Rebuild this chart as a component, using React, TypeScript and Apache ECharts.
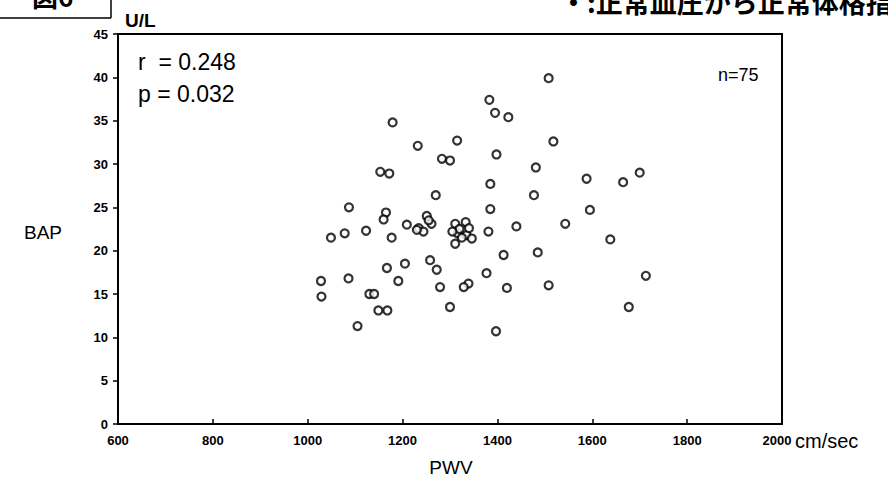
import React, { useEffect, useRef } from "react";
import * as echarts from "echarts";

const pwv: number[] = [
  1508, 1383, 1395, 1423, 1179, 1315, 1518, 1232, 1398, 1283,
  1300, 1481, 1153, 1172, 1700, 1588, 1665, 1385, 1270, 1477,
  1087, 1385, 1595, 1165, 1251, 1160, 1261, 1311, 1333, 1543,
  1209, 1440, 1234, 1244, 1123, 1381, 1078, 1316, 1335, 1049,
  1177, 1346, 1638, 1311, 1485, 1413, 1258, 1205, 1167, 1272,
  1377, 1713, 1086, 1028, 1191, 1339, 1508, 1279, 1329, 1420,
  1029, 1130, 1140, 1300, 1677, 1149, 1168, 1105, 1397, 1320,
  1325, 1305, 1340, 1230, 1255,
];
const bap: number[] = [
  39.9, 37.4, 35.9, 35.4, 34.8, 32.7, 32.6, 32.1, 31.1, 30.6,
  30.4, 29.6, 29.1, 28.9, 29.0, 28.3, 27.9, 27.7, 26.4, 26.4,
  25.0, 24.8, 24.7, 24.4, 24.0, 23.6, 23.1, 23.1, 23.3, 23.1,
  23.0, 22.8, 22.6, 22.2, 22.3, 22.2, 22.0, 22.0, 21.8, 21.5,
  21.5, 21.4, 21.3, 20.8, 19.8, 19.5, 18.9, 18.5, 18.0, 17.8,
  17.4, 17.1, 16.8, 16.5, 16.5, 16.2, 16.0, 15.8, 15.8, 15.7,
  14.7, 15.0, 15.0, 13.5, 13.5, 13.1, 13.1, 11.3, 10.7, 22.5,
  21.5, 22.2, 22.6, 22.4, 23.5,
];
const xTicks = { min: 600, max: 2000, interval: 200 };
const yTicks = { min: 0, max: 45, interval: 5 };

export default function App() {
  const ref = useRef<HTMLDivElement>(null);
  useEffect(() => {
    document.body.style.margin = "0";
    const chart = echarts.init(ref.current!, null, { renderer: "svg" });
    const data = pwv.map((x, i) => [x, bap[i]]);
    const font = "'Liberation Sans', Arial, sans-serif";
    chart.setOption({
      animation: false,
      backgroundColor: "#ffffff",
      grid: {
        left: 118,
        right: 106,
        top: 34,
        bottom: 63,
        show: true,
        borderColor: "#000",
        borderWidth: 2,
      },
      xAxis: {
        type: "value",
        min: xTicks.min,
        max: xTicks.max,
        interval: xTicks.interval,
        splitLine: { show: false },
        axisLine: { show: true, lineStyle: { color: "#000", width: 2 } },
        axisTick: { show: true, inside: true, length: 5, lineStyle: { color: "#000", width: 1.5 } },
        axisLabel: {
          color: "#000",
          fontSize: 13,
          fontWeight: "bold",
          fontFamily: font,
          margin: 10,
          formatter: (v: number) => (v === xTicks.max ? `{last|${v}}` : String(v)),
          rich: {
            last: { fontSize: 13, fontWeight: "bold", fontFamily: font, color: "#000", padding: [0, 10, 0, 0] },
          },
        },
      },
      yAxis: {
        type: "value",
        min: yTicks.min,
        max: yTicks.max,
        interval: yTicks.interval,
        splitLine: { show: false },
        axisLine: { show: true, lineStyle: { color: "#000", width: 2 } },
        axisTick: { show: true, inside: false, length: 5, lineStyle: { color: "#000", width: 1.5 } },
        axisLabel: { color: "#000", fontSize: 13, fontWeight: "bold", fontFamily: font, margin: 10 },
      },
      series: [
        {
          type: "scatter",
          data,
          symbol: "circle",
          symbolSize: 8,
          itemStyle: { color: "#fff", borderColor: "#000", borderWidth: 2.2 },
        },
      ],
      graphic: [
        {
          type: "text",
          x: 560,
          y: 1,
          style: {
            text: "・:正常血圧から正常体格指",
            font: "bold 27px 'Noto Sans CJK JP'",
            fill: "#000",
            textVerticalAlign: "middle",
          },
        },
        {
          type: "text",
          x: 32,
          y: -5,
          style: {
            text: "図6",
            font: "bold 26px 'Noto Sans CJK JP'",
            fill: "#000",
            textVerticalAlign: "middle",
          },
        },
        { type: "line", shape: { x1: 0, y1: 18, x2: 111, y2: 18 }, style: { stroke: "#000", lineWidth: 1.5 } },
        { type: "line", shape: { x1: 111, y1: 0, x2: 111, y2: 18 }, style: { stroke: "#000", lineWidth: 1.5 } },
        {
          type: "text",
          x: 125,
          y: 20,
          style: { text: "U/L", font: `bold 19px ${font}`, fill: "#000", textVerticalAlign: "middle" },
        },
        {
          type: "text",
          x: 138,
          y: 62,
          style: { text: "r  = 0.248", font: `23px ${font}`, fill: "#000", textVerticalAlign: "middle" },
        },
        {
          type: "text",
          x: 138,
          y: 94,
          style: { text: "p = 0.032", font: `23px ${font}`, fill: "#000", textVerticalAlign: "middle" },
        },
        {
          type: "text",
          x: 718,
          y: 75,
          style: { text: "n=75", font: `18px ${font}`, fill: "#000", textVerticalAlign: "middle" },
        },
        {
          type: "text",
          x: 24,
          y: 232,
          style: { text: "BAP", font: `19px ${font}`, fill: "#000", textVerticalAlign: "middle" },
        },
        {
          type: "text",
          x: 451,
          y: 467,
          style: { text: "PWV", font: `19px ${font}`, fill: "#000", textAlign: "center", textVerticalAlign: "middle" },
        },
        {
          type: "text",
          x: 795,
          y: 441,
          style: { text: "cm/sec", font: `20px ${font}`, fill: "#000", textVerticalAlign: "middle" },
        },
      ],
    });
    return () => chart.dispose();
  }, []);
  return <div ref={ref} style={{ width: 888, height: 487 }} />;
}
